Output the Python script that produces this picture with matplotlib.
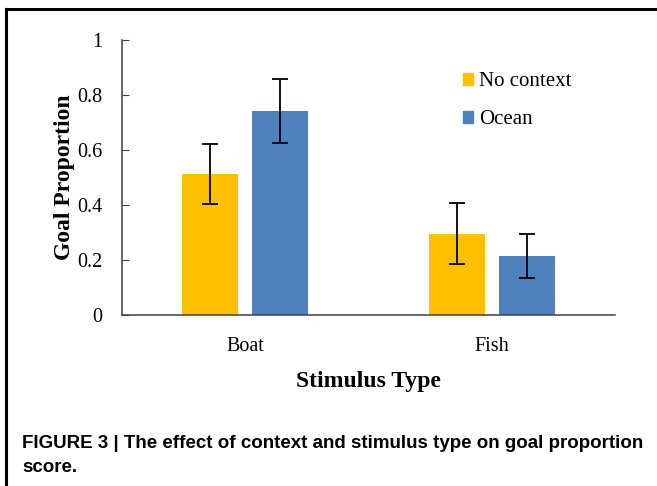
import matplotlib
matplotlib.use("Agg")
import matplotlib.pyplot as plt
from matplotlib.lines import Line2D
from matplotlib.patches import Patch

categories = ["Boat", "Fish"]
series = ["No context", "Ocean"]
no_context = [0.513, 0.296]
no_context_err = [0.11, 0.11]
ocean = [0.742, 0.216]
ocean_err = [0.117, 0.08]
yticks = [0, 0.2, 0.4, 0.6, 0.8, 1]
ytick_labels = ["0", "0.2", "0.4", "0.6", "0.8", "1"]

yellow = "#FFC000"
blue = "#4F81BD"
serif = ["Liberation Serif", "DejaVu Serif"]

fig = plt.figure(figsize=(6.57, 4.86), dpi=100)
ax = fig.add_axes([0.1857, 0.3519, 0.7503, 0.5658])

x = [0.5, 1.5]
w = 0.227
off = 0.142
ax.bar([i - off for i in x], no_context, w, color=yellow, label=series[0],
       yerr=no_context_err, error_kw=dict(ecolor="black", elinewidth=1.3, capsize=6, capthick=1.3))
ax.bar([i + off for i in x], ocean, w, color=blue, label=series[1],
       yerr=ocean_err, error_kw=dict(ecolor="black", elinewidth=1.3, capsize=6, capthick=1.3))

ax.set_xlim(0, 2)
ax.set_ylim(0, 1)
ax.set_xticks(x)
ax.set_xticklabels(categories, fontfamily=serif, fontsize=14.5)
ax.set_yticks(yticks)
ax.set_yticklabels(ytick_labels, fontfamily=serif, fontsize=14.5)
ax.tick_params(axis="x", length=0, pad=16)
ax.tick_params(axis="y", direction="in", length=5, pad=14, color="#404040")
for s in ["top", "right"]:
    ax.spines[s].set_visible(False)
for s in ["left", "bottom"]:
    ax.spines[s].set_color("#404040")
    ax.spines[s].set_linewidth(1.1)

ax.set_xlabel("Stimulus Type", fontfamily=serif, fontsize=17, fontweight="bold", labelpad=11)
ax.set_ylabel("Goal Proportion", fontfamily=serif, fontsize=17, fontweight="bold", labelpad=2)

handles = [Patch(color=yellow), Patch(color=blue)]
ax.legend(handles, series, loc="upper left", bbox_to_anchor=(0.692, 0.882), frameon=False,
          borderaxespad=0, borderpad=0,
          prop=dict(family=serif, size=15), handlelength=0.48, handleheight=0.48,
          handletextpad=0.3, labelspacing=0.9)

# frame of the cropped figure box
fig.add_artist(Line2D([6 / 657, 1], [1 - 9 / 486, 1 - 9 / 486], color="black", lw=2.2))
fig.add_artist(Line2D([6 / 657, 6 / 657], [0, 1 - 9 / 486], color="black", lw=2.2))

fig.text(22 / 657, 1 - 443 / 486, "FIGURE 3 | The effect of context and stimulus type on goal proportion",
         fontfamily="Liberation Sans", fontweight="bold", fontsize=13.5, va="center")
fig.text(22 / 657, 1 - 468 / 486, "score.",
         fontfamily="Liberation Sans", fontweight="bold", fontsize=13.5, va="center")

fig.savefig("out.png", dpi=100)
